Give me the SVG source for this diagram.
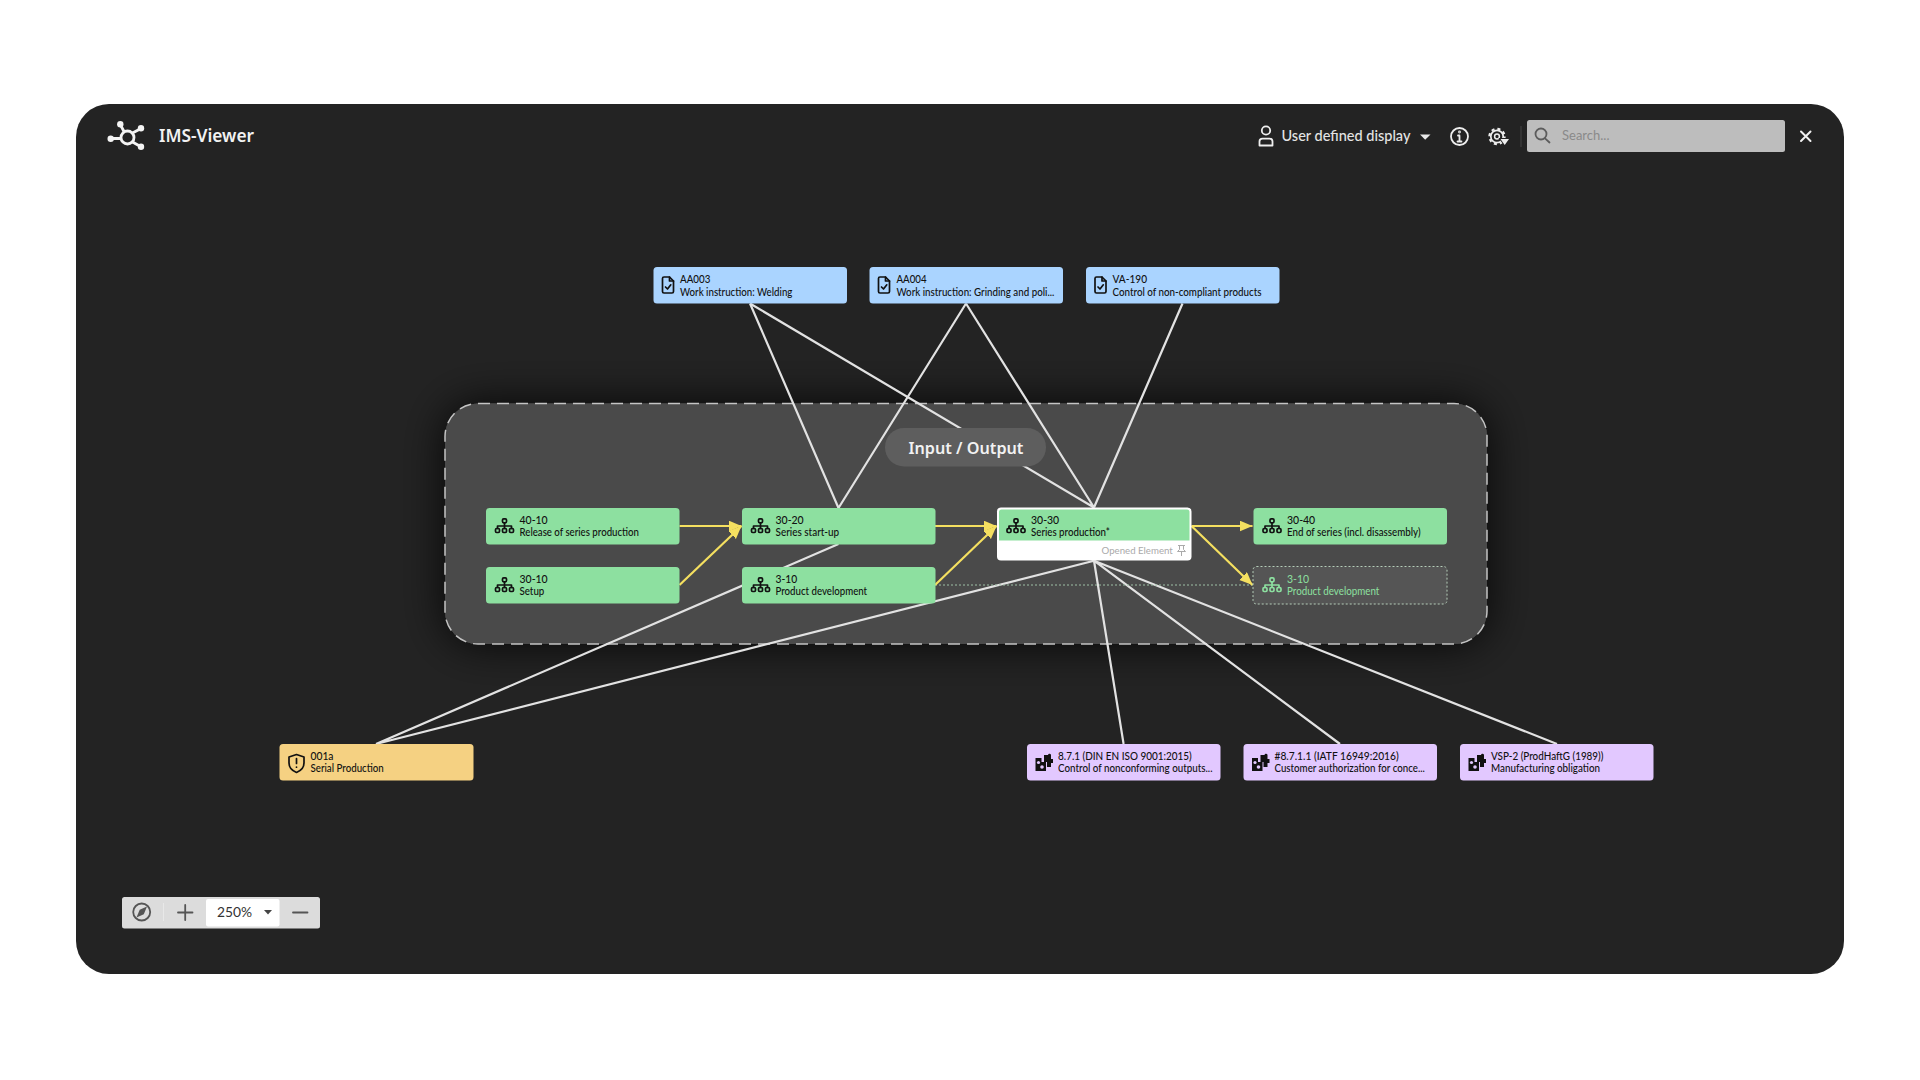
<svg xmlns="http://www.w3.org/2000/svg" xmlns:xlink="http://www.w3.org/1999/xlink" width="1920" height="1080" viewBox="0 0 1920 1080">
<style>
text{font-family:"Lato","Liberation Sans",sans-serif}
.n{fill:#111;font-size:11px;font-weight:500}
.g{fill:#8de0a0;font-size:11px}
.blue{fill:#aad4ff}.green{fill:#8de0a0}.purple{fill:#e2c8ff}.orange{fill:#f5d182}
.w{stroke:#e2e2e2;stroke-width:2.2;fill:none}
.y{stroke:#f5e060;stroke-width:2.2;fill:none}
.ic{fill:none;stroke:var(--c,#111);stroke-width:1.7;stroke-linejoin:round;stroke-linecap:round}
.hd{fill:none;stroke:#eee;stroke-width:1.8;stroke-linecap:round;stroke-linejoin:round}
.tb{fill:none;stroke:#555;stroke-width:1.8;stroke-linecap:round}
</style>
<defs>
<marker id="ah" markerUnits="userSpaceOnUse" markerWidth="14" markerHeight="12" refX="13" refY="5.5" orient="auto"><path d="M0 0L13 5.5L0 11Z" fill="#f5e060"/></marker>
<filter id="sh" x="-10%" y="-30%" width="120%" height="160%"><feDropShadow dx="0" dy="0" stdDeviation="22" flood-color="#000" flood-opacity=".85"/></filter>
<symbol id="org" viewBox="0 0 20 16" overflow="visible"><g class="ic"><rect x="8" y="0.8" width="4" height="4" rx="1.2"/><path d="M10 4.8V8M3 10.5V8H17V10.5M10 8V10.5"/><rect x="1" y="10.5" width="4" height="4" rx="1.2"/><rect x="8" y="10.5" width="4" height="4" rx="1.2"/><rect x="15" y="10.5" width="4" height="4" rx="1.2"/></g></symbol>
<symbol id="doc" viewBox="0 0 14 18" overflow="visible"><g class="ic"><path d="M1.5 2.5Q1.5 1 3 1H8.5L12.5 5V15.5Q12.5 17 11 17H3Q1.5 17 1.5 15.5Z"/><path d="M8.5 1V5H12.5M4.5 11L6.5 13L9.8 8.8"/></g></symbol>
<symbol id="puz" viewBox="0 0 18 18" overflow="visible"><path d="M0.5 4H6.5V8H11V17H0.5Z" fill="#111"/><path d="M9 1H13A1.5 1.5 0 0 1 16 1.5V5H18V9H16V13H12V8H9Z" fill="#111"/><circle cx="3.5" cy="8.5" r="1.6" fill="#e2c8ff"/><circle cx="7" cy="13" r="1.8" fill="#e2c8ff"/></symbol>
</defs>
<rect width="1920" height="1080" fill="#fff"/>
<rect id="frame" x="76" y="104" width="1768" height="870" rx="33" fill="#232323"/>
<g id="header">
<g id="logo" fill="none" stroke="#f4f4f4" stroke-width="2.8"><circle cx="127.5" cy="137.5" r="6.5"/><path d="M111 138.5H121M120.5 125L124 131.5M141 128.5L132.5 133M141 146.7L132.5 142"/><g fill="#f4f4f4" stroke="none"><circle cx="110.7" cy="138.7" r="3.2"/><circle cx="120.3" cy="124.3" r="3.2"/><circle cx="141" cy="128.3" r="3.2"/><circle cx="141" cy="146.7" r="3.2"/></g></g>
<text x="159" y="142" style="font-family:'Noto Sans',sans-serif;font-weight:600;font-size:17.3px" fill="#f2f2f2">IMS-Viewer</text>
<g class="hd"><circle cx="1266" cy="130.5" r="4.2"/><path d="M1259.5 145.5V141.5Q1259.5 138.7 1262.5 138.7H1269.5Q1272.5 138.7 1272.5 141.5V145.5Z"/></g>
<text x="1281.5" y="140.8" font-size="14.5" font-weight="500" fill="#e4e4e4">User defined display</text>
<path d="M1420 134.5H1430.5L1425.2 139.7Z" fill="#e8e8e8"/>
<g class="hd"><circle cx="1459.5" cy="136.5" r="8.5"/><path d="M1459.5 136V141.5M1457.5 141.5H1461.5M1458 135.5H1459.5"/><circle cx="1459.5" cy="132" r=".5"/></g>
<g id="gear" fill="none" stroke="#eee"><circle cx="1497" cy="136.5" r="6.2" stroke-width="1.7"/><circle cx="1497" cy="136.5" r="7.6" stroke-width="2.2" stroke-dasharray="3 3"/><circle cx="1497" cy="136.5" r="2.4" stroke-width="1.5"/><path d="M1498.5 138H1510.5L1504.5 146Z" fill="#232323" stroke="none"/><path d="M1500.5 139H1509L1504.7 145Z" fill="#eee" stroke="none"/></g>
<rect x="1520.5" y="126" width="1" height="21" fill="#444"/>
<rect id="search" x="1527" y="120" width="258" height="32" rx="2.5" fill="#bdbdbd"/>
<g fill="none" stroke="#5c5c5c" stroke-width="1.8" stroke-linecap="round"><circle cx="1541" cy="134" r="5.5"/><path d="M1545 138.3L1549.5 142.5"/></g>
<text x="1562" y="140" font-size="13" fill="#8a8a8a">Search...</text>
<path d="M1801 131.5L1810.5 141M1810.5 131.5L1801 141" stroke="#f0f0f0" stroke-width="2" stroke-linecap="round"/>
</g>
<g id="group">
<rect x="445" y="403.5" width="1042" height="240.5" rx="33" fill="#4a4a4a" filter="url(#sh)"/>
<rect x="445" y="403.5" width="1042" height="240.5" rx="33" fill="#4a4a4a" stroke="#c4c4c4" stroke-width="1.5" stroke-dasharray="12 7"/>
</g>
<g id="connectors">
<path class="w" d="M750 303.5L838.5 508M750 303.5L1094 507.5M966 303.5L838.5 508M966 303.5L1094 507.5M1182.5 303.5L1094 507.5M376 744L838.5 544M376 744L1094 560.7M1094 560.7L1123.6 744M1094 560.7L1340 744M1094 560.7L1557 744"/>
<path d="M935 585H1253" stroke="#9dbfa5" stroke-width="1" stroke-dasharray="2 2" fill="none"/>
<g class="y"><path marker-end="url(#ah)" d="M679.5 526H741.5"/><path marker-end="url(#ah)" d="M679.5 585L741.5 526"/><path marker-end="url(#ah)" d="M935 526H996.5"/><path marker-end="url(#ah)" d="M935 585L996.5 526"/><path marker-end="url(#ah)" d="M1191.5 526H1252.5"/><path marker-end="url(#ah)" d="M1191.5 526L1252.5 585"/></g>
</g>
<g id="pill"><rect x="885" y="428" width="161" height="38.5" rx="19" fill="#5e5e5e"/><text x="966" y="453.5" text-anchor="middle" style="font-family:'Noto Sans',sans-serif;font-weight:600;font-size:16.2px" fill="#f2f2f2">Input / Output</text></g>
<g id="n-aa003"><rect class="blue" x="653.5" y="267" width="193.5" height="36.5" rx="3.5"/><use href="#doc" x="661" y="276" width="14" height="18"/><text class="n" x="680" y="282.8" textLength="30.3" lengthAdjust="spacingAndGlyphs">AA003</text><text class="n" x="680" y="295.5" textLength="112.4" lengthAdjust="spacingAndGlyphs">Work instruction: Welding</text></g>
<g id="n-aa004"><rect class="blue" x="869.5" y="267" width="193.5" height="36.5" rx="3.5"/><use href="#doc" x="877" y="276" width="14" height="18"/><text class="n" x="896.5" y="282.8" textLength="30" lengthAdjust="spacingAndGlyphs">AA004</text><text class="n" x="896.5" y="295.5" textLength="157.8" lengthAdjust="spacingAndGlyphs">Work instruction: Grinding and poli...</text></g>
<g id="n-va190"><rect class="blue" x="1086" y="267" width="193.5" height="36.5" rx="3.5"/><use href="#doc" x="1093.5" y="276" width="14" height="18"/><text class="n" x="1112.5" y="282.8" textLength="34.5" lengthAdjust="spacingAndGlyphs">VA-190</text><text class="n" x="1112.5" y="295.5" textLength="149" lengthAdjust="spacingAndGlyphs">Control of non-compliant products</text></g>
<g id="n-4010"><rect class="green" x="486" y="508" width="193.5" height="36.5" rx="3.5"/><use href="#org" x="494.5" y="518" width="20" height="16"/><text class="n" x="519.5" y="524" textLength="28.2" lengthAdjust="spacingAndGlyphs">40-10</text><text class="n" x="519.5" y="536" textLength="119.5" lengthAdjust="spacingAndGlyphs">Release of series production</text></g>
<g id="n-3010"><rect class="green" x="486" y="567" width="193.5" height="36.5" rx="3.5"/><use href="#org" x="494.5" y="577" width="20" height="16"/><text class="n" x="519.5" y="583" textLength="28.2" lengthAdjust="spacingAndGlyphs">30-10</text><text class="n" x="519.5" y="595" textLength="24.8" lengthAdjust="spacingAndGlyphs">Setup</text></g>
<g id="n-3020"><rect class="green" x="742" y="508" width="193.5" height="36.5" rx="3.5"/><use href="#org" x="750.5" y="518" width="20" height="16"/><text class="n" x="775.5" y="524" textLength="28.2" lengthAdjust="spacingAndGlyphs">30-20</text><text class="n" x="775.5" y="536" textLength="63.7" lengthAdjust="spacingAndGlyphs">Series start-up</text></g>
<g id="n-310"><rect class="green" x="742" y="567" width="193.5" height="36.5" rx="3.5"/><use href="#org" x="750.5" y="577" width="20" height="16"/><text class="n" x="775.5" y="583" textLength="21.7" lengthAdjust="spacingAndGlyphs">3-10</text><text class="n" x="775.5" y="595" textLength="91.6" lengthAdjust="spacingAndGlyphs">Product development</text></g>
<g id="n-3030"><rect x="997" y="507.5" width="194.5" height="53" rx="4" fill="#fff"/><path class="green" d="M999 512Q999 509.5 1001.5 509.5H1187Q1189.5 509.5 1189.5 512V540.5H999Z"/><use href="#org" x="1006" y="518" width="20" height="16"/><text class="n" x="1031" y="524" textLength="28.2" lengthAdjust="spacingAndGlyphs">30-30</text><text class="n" x="1031" y="536" textLength="78.9" lengthAdjust="spacingAndGlyphs">Series production*</text><text x="1101.5" y="554" font-size="10" fill="#aaa" textLength="71.3" lengthAdjust="spacingAndGlyphs">Opened Element</text><path d="M1178 545.5H1185M1179.5 545.5V549.5L1177.5 551.5H1185.5L1183.5 549.5V545.5M1181.5 551.5V556" fill="none" stroke="#aaa" stroke-width="1"/></g>
<g id="n-3040"><rect class="green" x="1253.5" y="508" width="193.5" height="36.5" rx="3.5"/><use href="#org" x="1262" y="518" width="20" height="16"/><text class="n" x="1287" y="524" textLength="28.2" lengthAdjust="spacingAndGlyphs">30-40</text><text class="n" x="1287" y="536" textLength="133.6" lengthAdjust="spacingAndGlyphs">End of series (incl. disassembly)</text></g>
<g id="n-310b"><rect x="1253" y="566.5" width="194" height="37.5" rx="3.5" fill="#555" stroke="#b5cdb9" stroke-width="1" stroke-dasharray="2 2"/><use href="#org" x="1262" y="577" width="20" height="16" style="--c:#8de0a0"/><text class="g" x="1287" y="583" textLength="22" lengthAdjust="spacingAndGlyphs">3-10</text><text class="g" x="1287" y="595" textLength="92.3" lengthAdjust="spacingAndGlyphs">Product development</text></g>
<g id="n-001a"><rect class="orange" x="279.5" y="744" width="194" height="36.5" rx="3.5"/><path class="ic" d="M296.5 754.5L304 757V763Q304 769.5 296.5 772.5Q289 769.5 289 763V757Z"/><path class="ic" d="M296.5 758.5V763.5M296.5 767V767.2"/><text class="n" x="310.5" y="759.8" textLength="23" lengthAdjust="spacingAndGlyphs">001a</text><text class="n" x="310.5" y="771.7" textLength="73.3" lengthAdjust="spacingAndGlyphs">Serial Production</text></g>
<g id="n-871"><rect class="purple" x="1027" y="744" width="193.5" height="36.5" rx="3.5"/><use href="#puz" x="1035" y="754" width="18" height="18"/><text class="n" x="1058" y="759.8" textLength="133.8" lengthAdjust="spacingAndGlyphs">8.7.1 (DIN EN ISO 9001:2015)</text><text class="n" x="1058" y="771.7" textLength="154.5" lengthAdjust="spacingAndGlyphs">Control of nonconforming outputs...</text></g>
<g id="n-8711"><rect class="purple" x="1243.5" y="744" width="193.5" height="36.5" rx="3.5"/><use href="#puz" x="1251.5" y="754" width="18" height="18"/><text class="n" x="1274.5" y="759.8" textLength="124.2" lengthAdjust="spacingAndGlyphs">#8.7.1.1 (IATF 16949:2016)</text><text class="n" x="1274.5" y="771.7" textLength="150.3" lengthAdjust="spacingAndGlyphs">Customer authorization for conce...</text></g>
<g id="n-vsp2"><rect class="purple" x="1460" y="744" width="193.5" height="36.5" rx="3.5"/><use href="#puz" x="1468" y="754" width="18" height="18"/><text class="n" x="1491" y="759.8" textLength="112.4" lengthAdjust="spacingAndGlyphs">VSP-2 (ProdHaftG (1989))</text><text class="n" x="1491" y="771.7" textLength="109" lengthAdjust="spacingAndGlyphs">Manufacturing obligation</text></g>
<g id="toolbar">
<rect x="122" y="897" width="198" height="31.5" rx="2.5" fill="#dcdcdc"/>
<rect x="206" y="899" width="73.5" height="27.5" rx="2" fill="#fff"/>
<rect x="163" y="903" width="1" height="18" fill="#e8e8e8"/>
<circle class="tb" cx="141.7" cy="912" r="8.5"/><path d="M147 906.5L143.8 914.2L136.5 917.5L139.7 909.8Z" fill="#555"/>
<path class="tb" d="M178 912.5H192.5M185.2 905V920"/>
<text x="217" y="917.3" font-size="13.8" fill="#333">250%</text>
<path d="M264 910H272L268 914.5Z" fill="#444"/>
<path class="tb" d="M293 912.5H307.5"/>
</g>
</svg>
